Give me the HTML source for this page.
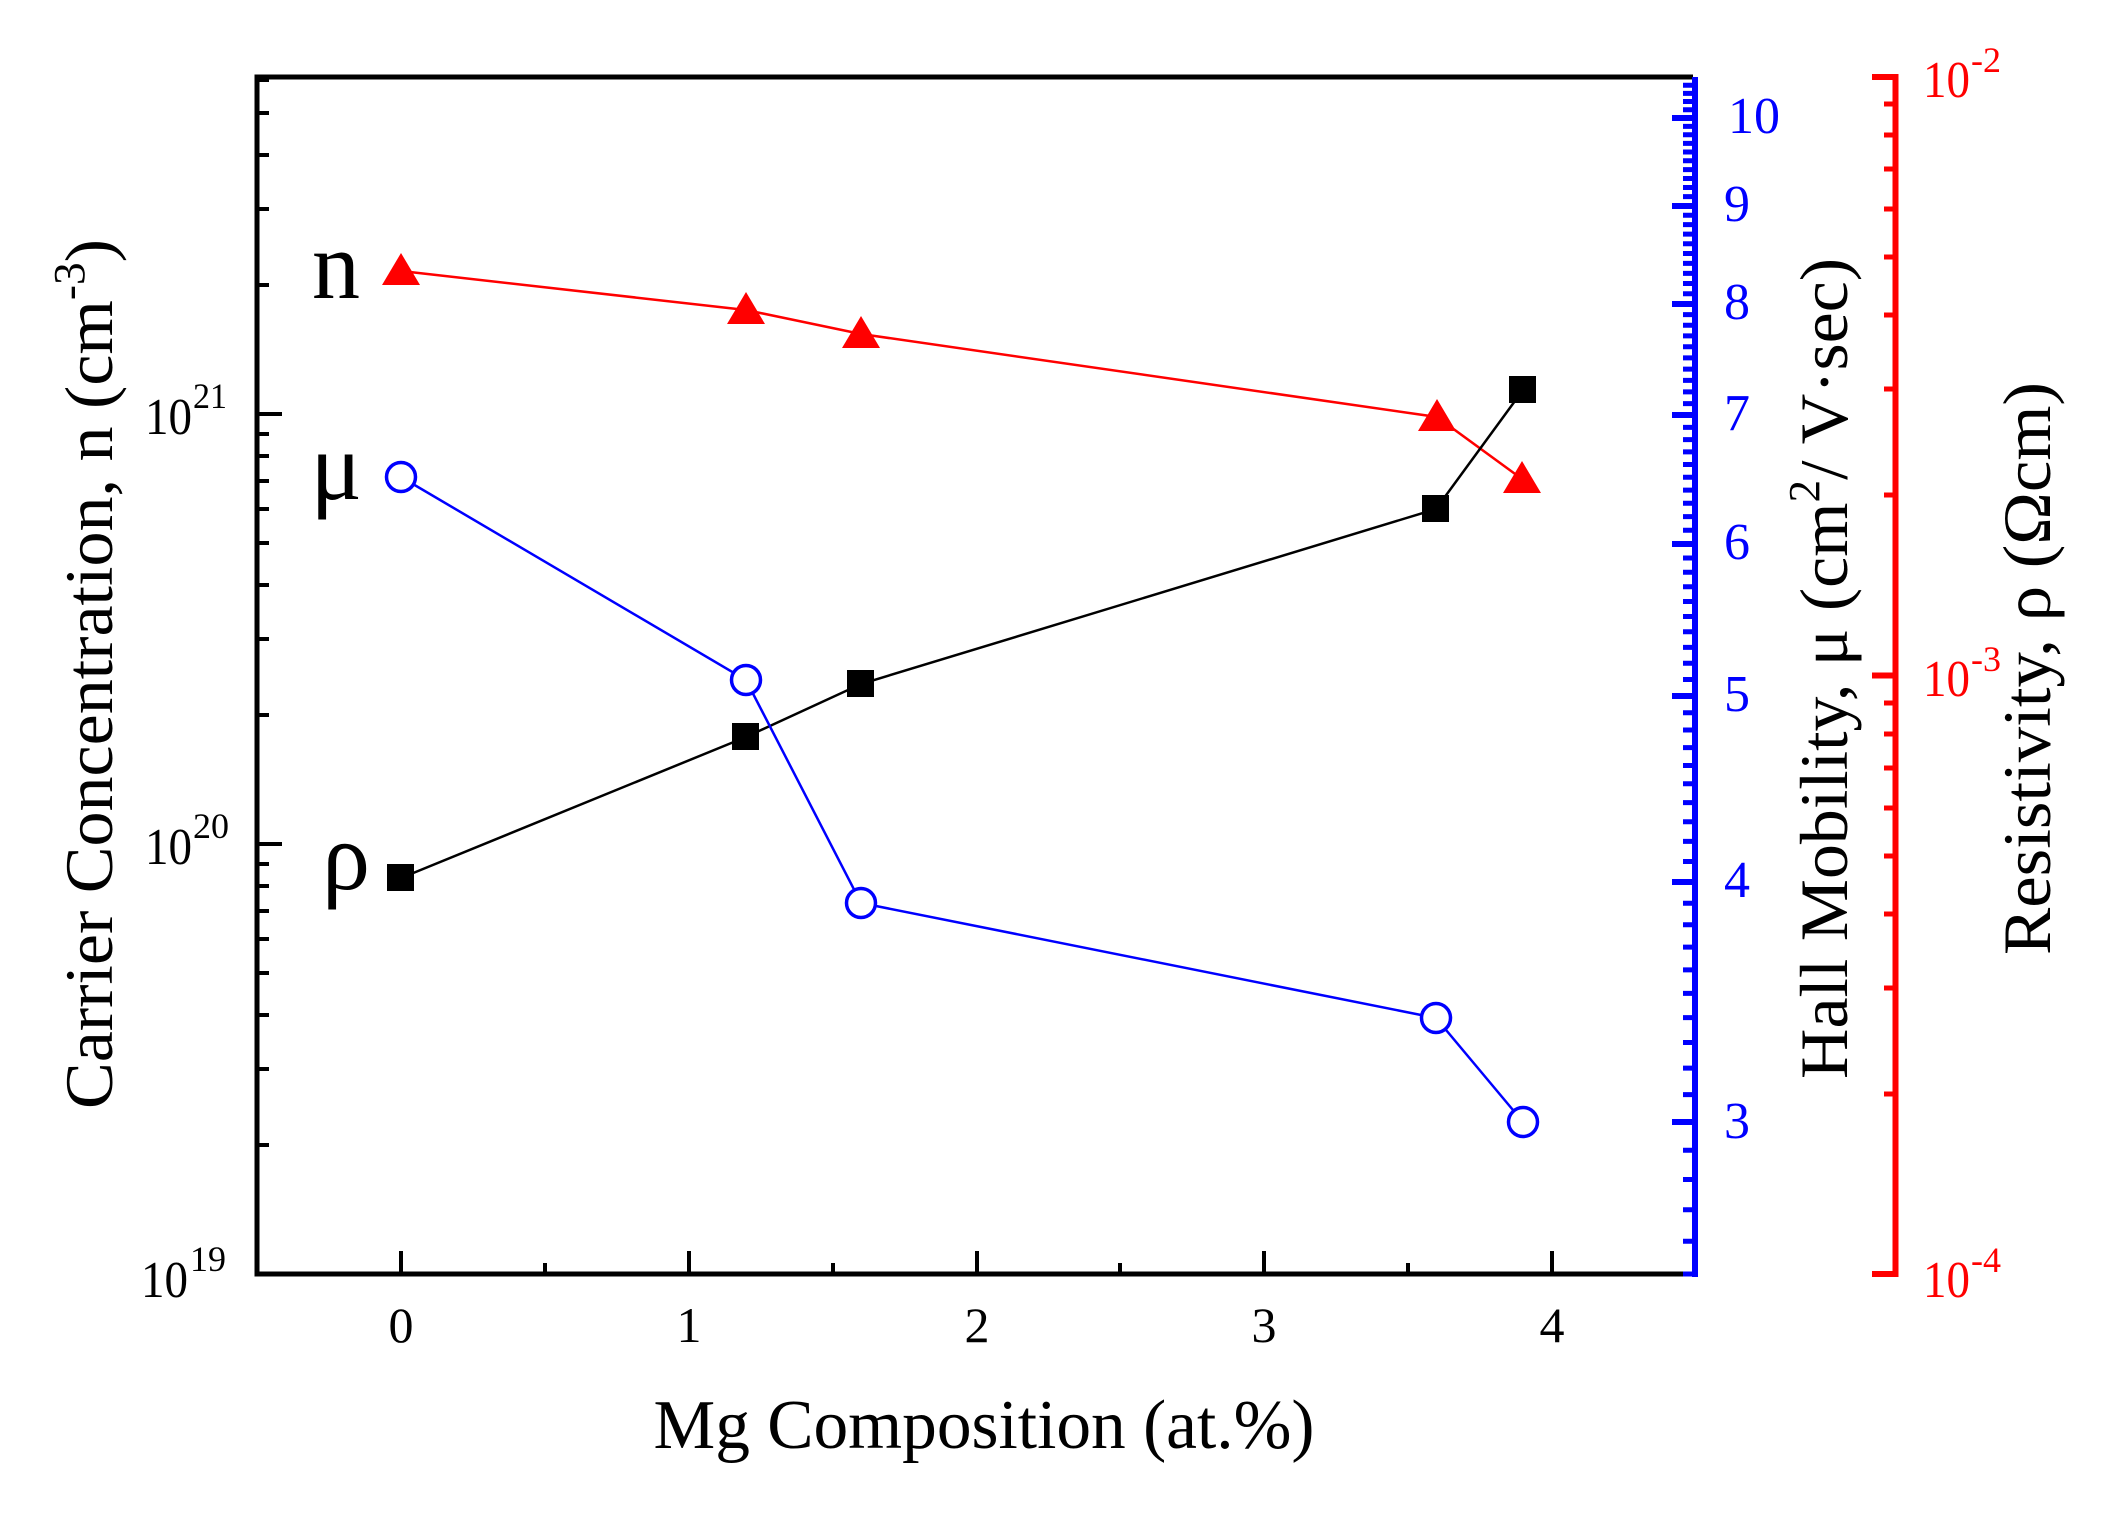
<!DOCTYPE html>
<html><head><meta charset="utf-8"><style>
html,body{margin:0;padding:0;background:#fff;}
svg{display:block;}
text{font-family:"Liberation Serif",serif;}
</style></head><body>
<svg id="s" width="2112" height="1521" viewBox="0 0 2112 1521" xmlns="http://www.w3.org/2000/svg">
<rect width="2112" height="1521" fill="#fff"/>
<!-- frame -->
<g stroke="#000" stroke-width="5" fill="none">
<line x1="257" y1="77" x2="1693" y2="77"/>
<line x1="257" y1="74.5" x2="257" y2="1276.5"/>
<line x1="254.5" y1="1274" x2="1693" y2="1274"/>
</g>
<!-- left ticks -->
<g stroke="#000" stroke-width="4">
<path d="M257 1274H282M257 844H282M257 414H282"/>
<path d="M257 1145H269M257 1069H269M257 1015H269M257 973H269M257 939H269M257 911H269M257 886H269M257 864H269
M257 715H269M257 639H269M257 585H269M257 543H269M257 509H269M257 481H269M257 456H269M257 434H269
M257 285H269M257 209H269M257 155H269M257 113H269M257 80H269"/>
<path d="M401 1274V1251M689 1274V1251M977 1274V1251M1264 1274V1251M1552 1274V1251
M545 1274V1263M833 1274V1263M1120 1274V1263M1408 1274V1263"/>
</g>
<!-- blue axis -->
<line x1="1695" y1="77" x2="1695" y2="1277" stroke="#00f" stroke-width="6"/>
<g id="bt" stroke="#00f" stroke-width="6"></g>
<path d="M1672 1122H1695M1672 882H1695M1672 696H1695M1672 544H1695M1672 415H1695M1672 304H1695M1672 206H1695M1672 118H1695" stroke="#00f" stroke-width="6"/>
<!-- red axis -->
<line x1="1895.5" y1="74" x2="1895.5" y2="1277" stroke="#f00" stroke-width="6"/>
<path d="M1872 77H1898M1872 675.5H1898M1872 1274H1898" stroke="#f00" stroke-width="6"/>
<path d="M1884 1094H1898M1884 988H1898M1884 914H1898M1884 856H1898M1884 808H1898M1884 768H1898M1884 734H1898M1884 703H1898
M1884 495H1898M1884 389H1898M1884 315H1898M1884 257H1898M1884 209H1898M1884 169H1898M1884 135H1898M1884 104H1898" stroke="#f00" stroke-width="5"/>

<!-- series lines -->
<polyline points="401,271 746,310 861,334 1437,417 1522,479" fill="none" stroke="#f00" stroke-width="2.5"/>
<polyline points="401,878 746,737 861,684 1436,509 1523,390" fill="none" stroke="#000" stroke-width="2.5"/>
<polyline points="401,477 746,680 861,903 1436,1018 1523,1122" fill="none" stroke="#00f" stroke-width="2.5"/>
<!-- markers -->
<g fill="#f00">
<polygon points="401,253 382,285 420,285"/>
<polygon points="746,292 727,324 765,324"/>
<polygon points="861,316 842,348 880,348"/>
<polygon points="1437,399 1418,431 1456,431"/>
<polygon points="1522,461 1503,493 1541,493"/>
</g>
<g fill="#000">
<rect x="387" y="864" width="27" height="27"/>
<rect x="732" y="723" width="27" height="27"/>
<rect x="847" y="670" width="27" height="27"/>
<rect x="1422" y="495" width="27" height="27"/>
<rect x="1509" y="376" width="27" height="27"/>
</g>
<g fill="#fff" stroke="#00f" stroke-width="3.5">
<circle cx="401" cy="477" r="14.5"/>
<circle cx="746" cy="680" r="14.5"/>
<circle cx="861" cy="903" r="14.5"/>
<circle cx="1436" cy="1018" r="14.5"/>
<circle cx="1523" cy="1122" r="14.5"/>
</g>
<!-- series labels -->
<g font-size="96" fill="#000" text-anchor="end">
<text x="360" y="298">n</text>
<text x="362" y="499">μ</text>
<text x="370" y="889">ρ</text>
</g>
<!-- left tick labels -->
<g fill="#000">
<text x="145" y="434" font-size="52" textLength="47" lengthAdjust="spacingAndGlyphs">10</text><text x="193" y="408" font-size="36" textLength="34" lengthAdjust="spacingAndGlyphs">21</text>
<text x="145" y="864" font-size="52" textLength="47" lengthAdjust="spacingAndGlyphs">10</text><text x="193" y="838" font-size="36" textLength="36" lengthAdjust="spacingAndGlyphs">20</text>
<text x="141" y="1297" font-size="52" textLength="47" lengthAdjust="spacingAndGlyphs">10</text><text x="190" y="1271" font-size="36" textLength="36" lengthAdjust="spacingAndGlyphs">19</text>
</g>
<!-- x tick labels -->
<g font-size="50" text-anchor="middle" fill="#000">
<text x="401" y="1342">0</text><text x="689" y="1342">1</text><text x="977" y="1342">2</text><text x="1264" y="1342">3</text><text x="1552" y="1342">4</text>
</g>
<!-- blue tick labels -->
<g font-size="52" fill="#00f">
<text x="1728" y="133">10</text>
<text x="1724" y="221">9</text>
<text x="1724" y="319">8</text>
<text x="1724" y="430">7</text>
<text x="1724" y="559">6</text>
<text x="1724" y="711">5</text>
<text x="1724" y="897">4</text>
<text x="1724" y="1138">3</text>
</g>
<!-- red tick labels -->
<g fill="#f00">
<text x="1923" y="97" font-size="52" textLength="47" lengthAdjust="spacingAndGlyphs">10</text><text x="1971" y="72" font-size="36">-2</text>
<text x="1923" y="696" font-size="52" textLength="47" lengthAdjust="spacingAndGlyphs">10</text><text x="1971" y="671" font-size="36">-3</text>
<text x="1923" y="1297" font-size="52" textLength="47" lengthAdjust="spacingAndGlyphs">10</text><text x="1971" y="1272" font-size="36">-4</text>
</g>
<!-- axis titles -->
<text x="984" y="1448" font-size="70" text-anchor="middle" textLength="661" lengthAdjust="spacingAndGlyphs" fill="#000">Mg Composition (at.%)</text>
<text transform="translate(112,1109) rotate(-90)" font-size="68" textLength="870" lengthAdjust="spacingAndGlyphs" fill="#000">Carrier Concentration, n (cm<tspan dy="-28" font-size="44">-3</tspan><tspan dy="28">)</tspan></text>
<text transform="translate(1847,1079) rotate(-90)" font-size="68" textLength="821" lengthAdjust="spacingAndGlyphs" fill="#000">Hall Mobility, μ (cm<tspan dy="-28" font-size="44">2</tspan><tspan dy="28">/ V·sec)</tspan></text>
<text transform="translate(2050,955) rotate(-90)" font-size="68" textLength="573" lengthAdjust="spacingAndGlyphs" fill="#000">Resistivity, ρ (Ωcm)</text>
<script>
(function(){var g=document.getElementById('bt'),d='';
for(var i=25;i<=105;i++){if(i%10===0)continue;var v=i/10;var y=2038-1920*Math.log10(v);
if(y<78||y>1274)continue;d+='M1683 '+y.toFixed(1)+'H1695';}
var p=document.createElementNS('http://www.w3.org/2000/svg','path');p.setAttribute('d',d);p.setAttribute('stroke','#00f');p.setAttribute('stroke-width','5');g.appendChild(p);})();
</script>
</svg>
</body></html>
